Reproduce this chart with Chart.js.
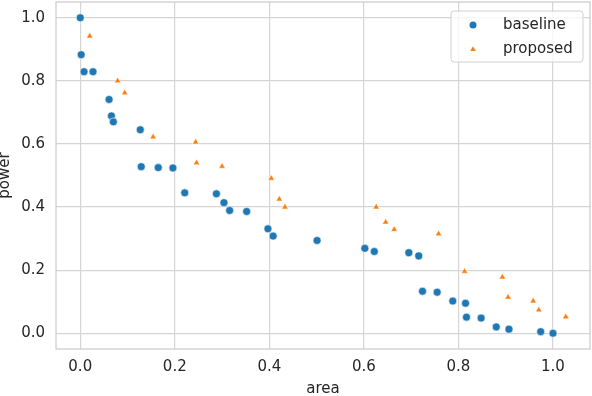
<!DOCTYPE html>
<html>
<head>
<meta charset="utf-8">
<script src="https://cdn.jsdelivr.net/npm/chart.js@4"></script>
<style>
  html, body { margin: 0; padding: 0; background: #fff; }
  #chart { display: block; }
</style>
</head>
<body>
<canvas id="chart" width="592" height="396"></canvas>
<script>
// values
const baselineArea  = [0.000, 0.002, 0.008, 0.027, 0.061, 0.066, 0.070, 0.127, 0.129, 0.165, 0.196,
                       0.221, 0.288, 0.304, 0.316, 0.352, 0.397, 0.408, 0.501, 0.602, 0.622, 0.695,
                       0.716, 0.724, 0.755, 0.788, 0.815, 0.817, 0.848, 0.880, 0.907, 0.974, 1.000];
const baselinePower = [1.000, 0.883, 0.829, 0.829, 0.741, 0.689, 0.670, 0.645, 0.528, 0.525, 0.524,
                       0.445, 0.442, 0.414, 0.389, 0.386, 0.331, 0.308, 0.294, 0.269, 0.259, 0.255,
                       0.245, 0.133, 0.130, 0.102, 0.095, 0.051, 0.048, 0.020, 0.013, 0.005, 0.000];
const proposedArea  = [0.020, 0.079, 0.094, 0.154, 0.244, 0.246, 0.300, 0.404, 0.421, 0.433,
                       0.626, 0.646, 0.664, 0.758, 0.813, 0.893, 0.905, 0.958, 0.970, 1.027];
const proposedPower = [0.942, 0.800, 0.762, 0.622, 0.606, 0.540, 0.529, 0.491, 0.425, 0.400,
                       0.400, 0.352, 0.329, 0.315, 0.196, 0.178, 0.114, 0.102, 0.074, 0.052];
const xTicks = [0.0, 0.2, 0.4, 0.6, 0.8, 1.0];
const yTicks = [0.0, 0.2, 0.4, 0.6, 0.8, 1.0];
const xLimits = [-0.0513, 1.0783];
const yLimits = [-0.05, 1.05];

const blue      = '#1f77b4';
const orange    = '#ff7f0e';
const gridColor = '#d5d5d5';
const textColor = '#262626';
const family    = "'DejaVu Sans', sans-serif";

const toPoints = (xs, ys) => xs.map((x, i) => ({ x, y: ys[i] }));
const fixTicks = values => axis => { axis.ticks = values.map(value => ({ value })); };

// light frame round the plot area, like seaborn's whitegrid spines
const framePlugin = {
  id: 'frame',
  beforeDatasetsDraw(chart) {
    const { ctx, chartArea: a } = chart;
    ctx.save();
    ctx.strokeStyle = '#cccccc';
    ctx.lineWidth = 1.25;
    ctx.strokeRect(a.left, a.top, a.right - a.left, a.bottom - a.top);
    ctx.restore();
  },
};

function drawMarker(ctx, style, x, y, r, color) {
  ctx.beginPath();
  if (style === 'triangle') {
    ctx.moveTo(x, y - r);
    ctx.lineTo(x - r * 0.866, y + r * 0.5);
    ctx.lineTo(x + r * 0.866, y + r * 0.5);
    ctx.closePath();
  } else {
    ctx.arc(x, y, r, 0, Math.PI * 2);
  }
  ctx.fillStyle = color;
  ctx.fill();
}

// legend box drawn inside the top right corner of the plot
const legendPlugin = {
  id: 'insideLegend',
  afterDraw(chart) {
    const { ctx, chartArea: a } = chart;
    const w = 132, h = 51;
    const x = a.right - 7 - w, y = a.top + 9;
    ctx.save();
    ctx.beginPath();
    if (ctx.roundRect) ctx.roundRect(x, y, w, h, 3); else ctx.rect(x, y, w, h);
    ctx.fillStyle = 'rgba(255,255,255,0.8)';
    ctx.fill();
    ctx.strokeStyle = '#d0d0d0';
    ctx.lineWidth = 1;
    ctx.stroke();
    ctx.font = '15px ' + family;
    ctx.textBaseline = 'middle';
    chart.data.datasets.forEach((ds, i) => {
      const cy = y + 14 + i * 24.5;
      drawMarker(ctx, ds.pointStyle, x + 22, cy, ds.pointStyle === 'triangle' ? 3.2 : 3.5, ds.backgroundColor);
      ctx.fillStyle = textColor;
      ctx.fillText(ds.label, x + 52, cy);
    });
    ctx.restore();
  },
};

const tickFont  = { family, size: 15, lineHeight: 1.2 };
const titleFont = { family, size: 15, lineHeight: 1 };

new Chart(document.getElementById('chart'), {
  type: 'scatter',
  data: {
    datasets: [
      {
        label: 'baseline',
        data: toPoints(baselineArea, baselinePower),
        pointStyle: 'circle',
        pointRadius: 4,
        backgroundColor: blue,
        borderColor: '#ffffff',
        borderWidth: 0.6,
      },
      {
        label: 'proposed',
        data: toPoints(proposedArea, proposedPower),
        pointStyle: 'triangle',
        pointRadius: 3.7,
        backgroundColor: orange,
        borderColor: '#ffffff',
        borderWidth: 0.5,
      },
    ],
  },
  options: {
    responsive: false,
    animation: false,
    devicePixelRatio: 1,
    layout: { autoPadding: false, padding: { top: 2, right: 2, left: 0, bottom: 0 } },
    plugins: { legend: { display: false }, tooltip: { enabled: false } },
    scales: {
      x: {
        type: 'linear',
        min: xLimits[0],
        max: xLimits[1],
        afterBuildTicks: fixTicks(xTicks),
        afterFit: s => { s.height = 47; s.paddingLeft = 0; s.paddingRight = 0; },
        grid: { color: gridColor, lineWidth: 1.2, drawTicks: false },
        border: { display: false },
        ticks: { padding: 9.5, color: textColor, font: tickFont, maxRotation: 0, callback: v => v.toFixed(1) },
        title: { display: true, text: 'area', color: textColor, font: titleFont, padding: { top: 0, bottom: -1 } },
      },
      y: {
        type: 'linear',
        min: yLimits[0],
        max: yLimits[1],
        afterBuildTicks: fixTicks(yTicks),
        afterFit: s => { s.width = 56; s.paddingTop = 0; s.paddingBottom = 0; },
        grid: { color: gridColor, lineWidth: 1.2, drawTicks: false },
        border: { display: false },
        ticks: { padding: 11, color: textColor, font: tickFont, callback: v => v.toFixed(1) },
        title: { display: true, text: 'power', color: textColor, font: titleFont, padding: { top: -2.5, bottom: 0 } },
      },
    },
  },
  plugins: [framePlugin, legendPlugin],
});
</script>
</body>
</html>
